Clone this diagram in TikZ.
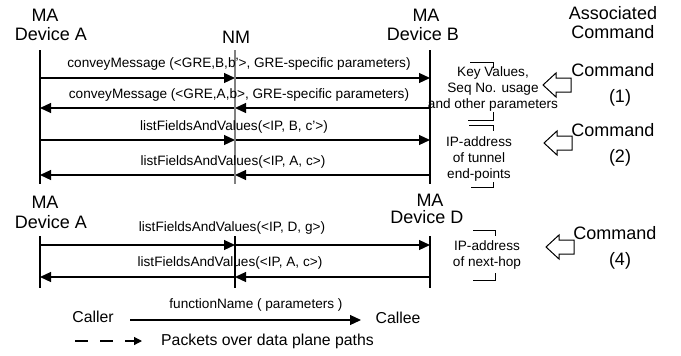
\documentclass[tikz,border=0pt]{standalone}
\usepackage{fontspec}
\setmainfont{Liberation Sans}
\usetikzlibrary{arrows.meta}

\tikzset{
    head/.style={font=\fontsize{18}{21}\selectfont, inner sep=1pt},
    msglabel/.style={font=\fontsize{13.6}{16}\selectfont, inner sep=1pt},
    note/.style={font=\fontsize{13.6}{15.6}\selectfont, align=center, inner sep=1pt},
    legend/.style={font=\fontsize{15.8}{18}\selectfont, inner sep=1pt},
    life/.style={line width=1.2pt},
    call/.style={line width=1.2pt, -{Triangle[length=11pt,width=10pt]}},
    data/.style={line width=1.2pt, dash pattern=on 13pt off 12pt, -{Triangle[length=8pt,width=8pt]}},
    cmdarrow/.pic={
        \draw[line width=1pt, line join=miter]
            (0,0) -- (13,-12) -- (13,-7) -- (28,-7) -- (28,7) -- (13,7) -- (13,12) -- cycle;
    }
}

\begin{document}
\begin{tikzpicture}[x=1pt,y=-1pt]
    \useasboundingbox (0,0) rectangle (681,356);
    % headings
    \node[head] (maA) at (45,15) {MA};
    \node[head] (devA) at (51,34) {Device A};
    \node[head] (nm) at (236,37) {NM};
    \node[head] (maB) at (426,15) {MA};
    \node[head] (devB) at (423,34) {Device B};
    \node[head] (assoc) at (613,13) {Associated};
    \node[head] (assocCmd) at (613,32) {Command};
    % lifelines, upper part
    \foreach \n/\x in {a/40, n/235, b/430} {
        \coordinate (\n-top) at (\x,50);
        \coordinate (\n-bot) at (\x,184);
    }
    \draw[life] (a-top) -- (a-bot);
    \draw[life] (b-top) -- (b-bot);
    % messages, upper part
    \foreach \i/\y in {1/78, 2/108, 3/140, 4/175} {
        \coordinate (a\i) at (40,\y);
        \coordinate (n\i) at (235,\y);
        \coordinate (b\i) at (430,\y);
    }
    \draw[call] (a1) -- (n1);
    \draw[call] (n1) -- (b1);
    \draw[call] (b2) -- (n2);
    \draw[call] (n2) -- (a2);
    \draw[call] (a3) -- (n3);
    \draw[call] (n3) -- (b3);
    \draw[call] (b4) -- (n4);
    \draw[call] (n4) -- (a4);
    \draw[life,gray] (n-top) -- (n-bot);
    \node[msglabel] (m1) at (239,64) {conveyMessage (<GRE,B,b'>, GRE-specific parameters)};
    \node[msglabel] (m2) at (239,95) {conveyMessage (<GRE,A,b>, GRE-specific parameters)};
    \node[msglabel] (m3) at (234,127) {listFieldsAndValues(<IP, B, c'>)};
    \node[msglabel] (m4) at (233,162) {listFieldsAndValues(<IP, A, c>)};
    % notes and commands, upper part
    \draw[thin] (470,62) -| (493,68);
    \draw[thin] (468,120) -| (493,112);
    \node[note] (keys) at (493,89) {Key Values,\\Seq No. usage\\and other parameters};
    \pic at (543,85) {cmdarrow};
    \node[head] (cmd1) at (613,70) {Command};
    \node[head] (num1) at (620,98) {(1)};
    \draw[thin] (469,125) -| (493,131);
    \draw[thin] (471,187) -| (493,182);
    \node[note] (tunnel) at (479,159) {IP-address\\of tunnel\\end-points};
    \pic at (544,143) {cmdarrow};
    \node[head] (cmd2) at (613,130) {Command};
    \node[head] (num2) at (620,158) {(2)};
    % headings, lower part
    \node[head] (maA2) at (45,202) {MA};
    \node[head] (devA2) at (51,222) {Device A};
    \node[head] (maD) at (430,200) {MA};
    \node[head] (devD) at (427,217) {Device D};
    % lifelines, lower part
    \foreach \n/\x in {c/40, m/235, d/430} {
        \coordinate (\n-top) at (\x,236);
        \coordinate (\n-bot) at (\x,288);
    }
    \draw[life] (c-top) -- (c-bot);
    \draw[life] (m-top) -- (m-bot);
    \draw[life] (d-top) -- (d-bot);
    % messages, lower part
    \foreach \i/\y in {5/245, 6/277} {
        \coordinate (c\i) at (40,\y);
        \coordinate (m\i) at (235,\y);
        \coordinate (d\i) at (430,\y);
    }
    \draw[call] (c5) -- (m5);
    \draw[call] (m5) -- (d5);
    \draw[call] (d6) -- (m6);
    \draw[call] (m6) -- (c6);
    \node[msglabel] (m5l) at (232,228) {listFieldsAndValues(<IP, D, g>)};
    \node[msglabel] (m6l) at (230,263) {listFieldsAndValues(<IP, A, c>)};
    % notes and commands, lower part
    \draw[thin] (473,230) -| (495,236);
    \draw[thin] (473,280) -| (495,273);
    \node[note] (hop) at (487,255) {IP-address\\of next-hop};
    \pic at (546,247) {cmdarrow};
    \node[head] (cmd4) at (615,233) {Command};
    \node[head] (num4) at (620,261) {(4)};
    % legend
    \node[legend] (caller) at (93,317) {Caller};
    \node[legend] (callee) at (398,318) {Callee};
    \coordinate (callFrom) at (130,320);
    \coordinate (callTo) at (361,320);
    \draw[call] (callFrom) -- (callTo);
    \node[note] (fname) at (256,305) {functionName ( parameters )};
    \coordinate (dataFrom) at (75,341);
    \coordinate (dataTo) at (142,341);
    \draw[data] (dataFrom) -- (dataTo);
    \node[legend, anchor=west] (packets) at (160,341) {Packets over data plane paths};
\end{tikzpicture}
\end{document}
